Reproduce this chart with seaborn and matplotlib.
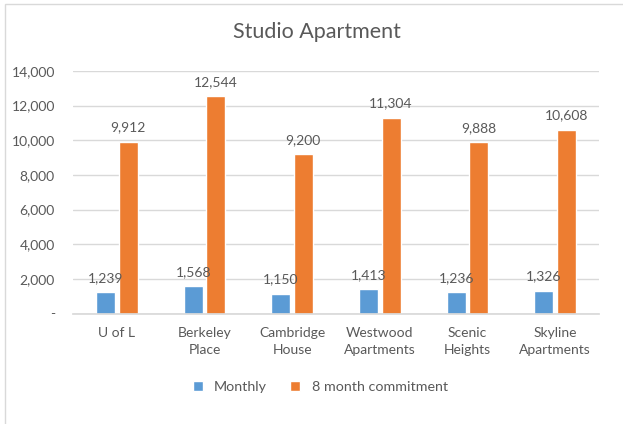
import matplotlib

matplotlib.use("Agg")
import matplotlib.pyplot as plt
import pandas as pd
import seaborn as sns
from matplotlib.patches import Rectangle
from matplotlib.ticker import FuncFormatter

categories = ["U of L", "Berkeley\nPlace", "Cambridge\nHouse", "Westwood\nApartments",
              "Scenic\nHeights", "Skyline\nApartments"]
monthly = [1239, 1568, 1150, 1413, 1236, 1326]
commitment = [9912, 12544, 9200, 11304, 9888, 10608]
series = ["Monthly", "8 month commitment"]

df = pd.DataFrame({
    "place": categories * 2,
    "series": [series[0]] * len(categories) + [series[1]] * len(categories),
    "value": monthly + commitment,
})

sns.set_theme(style="white")
plt.rcParams["font.family"] = ["Lato", "DejaVu Sans"]
text_col = "#595959"

fig = plt.figure(figsize=(6.23, 4.24), dpi=100)
ax = fig.add_axes([73 / 623, 1 - 313.5 / 424, 526 / 623, (313.5 - 71) / 424])

sns.barplot(data=df, x="place", y="value", hue="series", order=categories,
            hue_order=series, palette=["#5B9BD5", "#ED7D31"], width=0.51, gap=0.15,
            ax=ax, errorbar=None, saturation=1)

for cont in ax.containers:
    ax.bar_label(cont, labels=[f"{v:,.0f}" for v in cont.datavalues], padding=6,
                 fontsize=10, color=text_col)

ax.set_ylim(0, 14000)
ax.set_yticks(range(0, 14001, 2000))
ax.yaxis.set_major_formatter(FuncFormatter(lambda v, p: "-" if v == 0 else f"{v:,.0f}"))
ax.yaxis.grid(True, color="#D9D9D9", lw=1)
ax.set_axisbelow(True)
for s in ["left", "right", "top"]:
    ax.spines[s].set_visible(False)
ax.spines["bottom"].set_color("#D9D9D9")
ax.tick_params(axis="both", length=0, labelsize=10, colors=text_col)
ax.tick_params(axis="y", pad=13)
ax.tick_params(axis="x", pad=10)
for lab in ax.get_xticklabels():
    lab.set_linespacing(1.5)
ax.set_xlabel("")
ax.set_ylabel("")

ax.legend(loc="upper center", bbox_to_anchor=(0.47, -0.225), ncol=2, frameon=False,
          fontsize=10.3, handlelength=0.7, handleheight=0.7, columnspacing=1.6,
          handletextpad=0.8, labelcolor=text_col)

fig.text(0.508, 0.925, "Studio Apartment", ha="center", va="center", fontsize=15.5,
         color=text_col)

fig.patches.append(Rectangle((5 / 623, -0.1), 1.2, 1.1 - 4 / 424, transform=fig.transFigure,
                             fill=False, edgecolor="#D9D9D9", lw=1))

fig.savefig("out.png", dpi=100)
